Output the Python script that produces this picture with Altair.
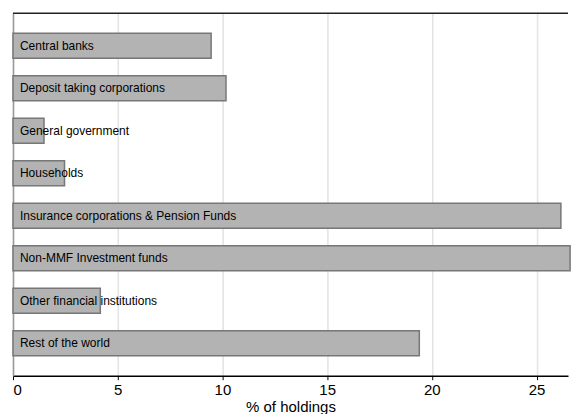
import altair as alt
import pandas as pd

categories = [
    "Central banks",
    "Deposit taking corporations",
    "General government",
    "Households",
    "Insurance corporations & Pension Funds",
    "Non-MMF Investment funds",
    "Other financial institutions",
    "Rest of the world",
]
values = [9.46, 10.17, 1.48, 2.46, 26.16, 26.6, 4.17, 19.4]
x_ticks = [0, 5, 10, 15, 20, 25]

df = pd.DataFrame({"sector": categories, "value": values})

FONT = "Liberation Sans"
W, H = 556, 363

x_scale = alt.Scale(domain=[0, 26.5], nice=False, zero=True)
y_scale = alt.Scale(paddingInner=0.414, paddingOuter=0.47)

base = alt.Chart(df)

bars = base.mark_bar(color="#b3b3b3", stroke="#777777", strokeWidth=1.5).encode(
    x=alt.X(
        "value:Q",
        scale=x_scale,
        axis=alt.Axis(
            title="% of holdings",
            values=x_ticks,
            grid=True,
            gridColor="#e3e3e3",
            gridWidth=1.5,
            domainColor="#000000",
            domainWidth=1.5,
            tickColor="#000000",
            tickSize=4,
            tickWidth=1,
            labelFontSize=15,
            labelFont=FONT,
            labelColor="#000000",
            labelPadding=3,
            titleFontSize=15,
            titleFont=FONT,
            titleFontWeight="normal",
            titleColor="#000000",
            titlePadding=2,
        ),
    ),
    y=alt.Y(
        "sector:N",
        sort=None,
        scale=y_scale,
        axis=alt.Axis(
            title=None,
            labels=False,
            ticks=False,
            grid=False,
            domainColor="#999999",
            domainWidth=1.5,
        ),
    ),
)

labels = base.mark_text(
    align="left", baseline="middle", dx=7, fontSize=12, font=FONT, color="#000000"
).encode(
    x=alt.datum(0, scale=x_scale),
    y=alt.Y("sector:N", sort=None),
    text="sector:N",
)

top_line = alt.Chart(pd.DataFrame({"a": [0]})).mark_rule(
    color="#222222", strokeWidth=1.5
).encode(y=alt.value(0))

chart = (
    alt.layer(bars, labels, top_line)
    .properties(width=W, height=H, padding={"left": 4, "top": 4, "right": 0, "bottom": 0})
    .configure_view(stroke=None)
)

chart.save("out.html", embed_options={"renderer": "svg", "actions": False})
